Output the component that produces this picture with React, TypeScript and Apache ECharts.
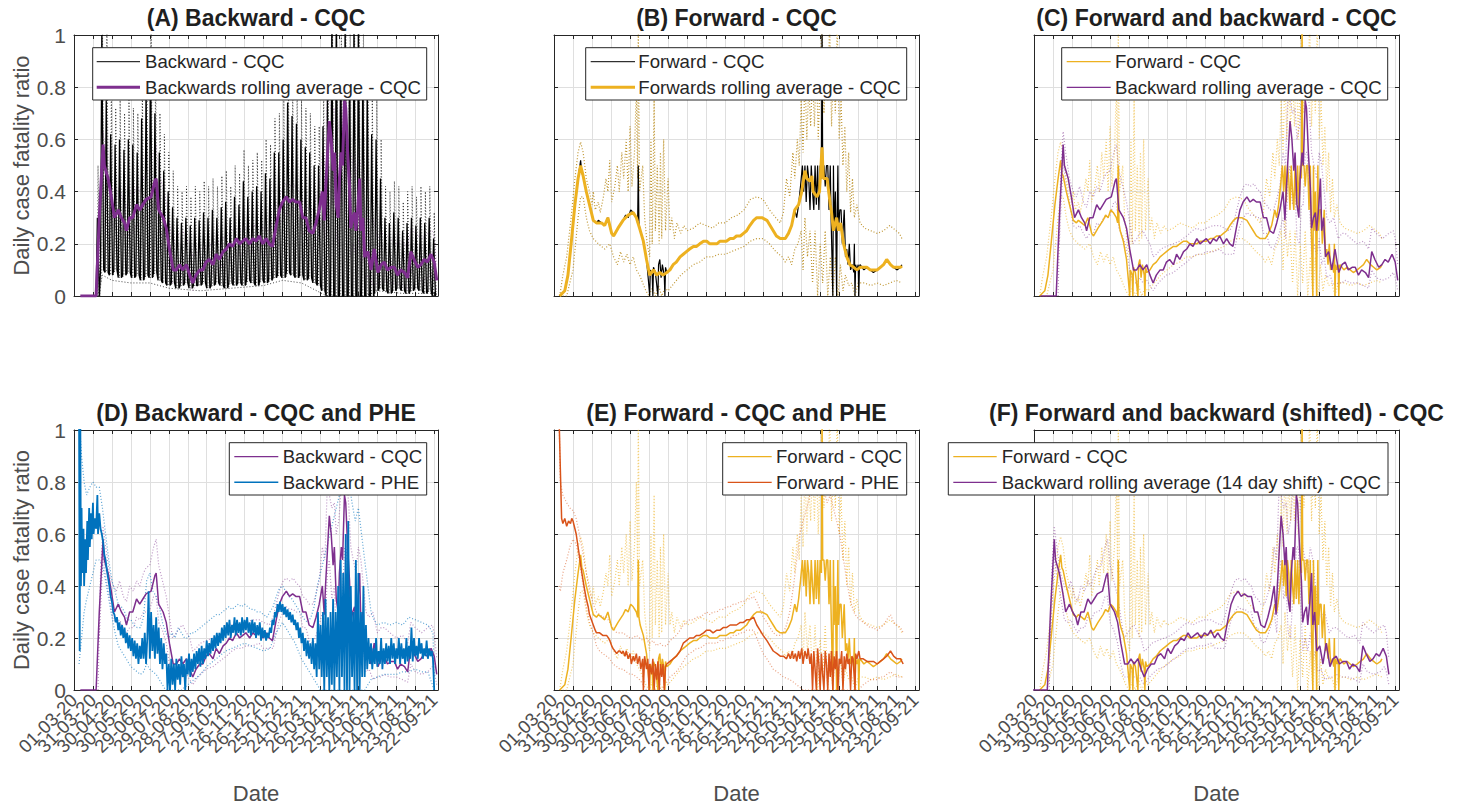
import React, { useEffect, useRef } from 'react';
import * as echarts from 'echarts';

const FONT = '"Liberation Sans", Arial, Helvetica, sans-serif';

// x tick labels (every 30 days from 01-03-20)
const tickLabels = [
  '01-03-20', '31-03-20', '30-04-20', '30-05-20', '29-06-20', '29-07-20', '28-08-20',
  '27-09-20', '27-10-20', '26-11-20', '26-12-20', '25-01-21', '24-02-21', '26-03-21',
  '25-04-21', '25-05-21', '24-06-21', '24-07-21', '23-08-21', '22-09-21',
];
const yTicks = [0, 0.2, 0.4, 0.6, 0.8, 1];

// Backward raw CQC (panel A): weekly low / high / upper-bound peaks (week index -> day 7*w)
const aHigh = [null, null, 0, 0, 0, 0.3, 1.0, 0.75, 0.62, 0.58, 0.6, 0.56, 0.6, 0.58, 0.55, 0.68, 0.78, 0.95, 0.7, 0.55,
  0.48, 0.4, 0.34, 0.3, 0.28, 0.3, 0.27, 0.3, 0.29, 0.32, 0.3, 0.33, 0.3, 0.34, 0.36, 0.3, 0.38, 0.35, 0.44, 0.38,
  0.4, 0.42, 0.4, 0.47, 0.45, 0.55, 0.55, 0.6, 0.74, 0.69, 0.66, 0.6, 0.57, 0.55, 0.5, 0.5, 0.65, 0.75, 1.05, 1.05,
  0.95, 1.05, 0.9, 1.05, 1.05, 0.9, 0.8, 0.62, 0.6, 0.45, 0.3, 0.28, 0.32, 0.3, 0.25, 0.28, 0.3, 0.27, 0.3, 0.28, 0.3, 0.22];
const aLow = [null, null, 0, 0, 0, 0, 0.1, 0.09, 0.08, 0.1, 0.07, 0.08, 0.09, 0.07, 0.08, 0.06, 0.08, 0.07, 0.09, 0.06,
  0.05, 0.04, 0.05, 0.03, 0.04, 0.05, 0.03, 0.04, 0.04, 0.05, 0.03, 0.04, 0.05, 0.04, 0.03, 0.05, 0.04, 0.05, 0.04, 0.06,
  0.05, 0.04, 0.06, 0.05, 0.06, 0.07, 0.08, 0.07, 0.09, 0.08, 0.07, 0.08, 0.06, 0.07, 0.05, 0.04, 0.02, 0, 0, 0,
  0, 0, 0, 0, 0, 0, 0, 0, 0.02, 0.03, 0.02, 0.01, 0.02, 0.03, 0.02, 0.01, 0.02, 0.03, 0.02, 0.01, 0.02, 0];
const aUp = [null, null, 0, 0, 0, 0.5, 1.05, 1.05, 0.8, 0.72, 0.75, 0.7, 0.75, 0.72, 0.7, 0.85, 0.95, 1.05, 0.9, 0.7,
  0.62, 0.55, 0.48, 0.42, 0.4, 0.42, 0.38, 0.42, 0.4, 0.44, 0.42, 0.45, 0.42, 0.46, 0.48, 0.42, 0.5, 0.47, 0.56, 0.5,
  0.52, 0.55, 0.52, 0.6, 0.58, 0.68, 0.7, 0.75, 0.9, 0.85, 0.82, 0.75, 0.72, 0.7, 0.65, 0.65, 0.8, 0.92, 1.05, 1.05,
  1.05, 1.05, 1.05, 1.05, 1.05, 1.05, 0.95, 0.78, 0.75, 0.6, 0.42, 0.4, 0.44, 0.42, 0.36, 0.4, 0.42, 0.38, 0.42, 0.4, 0.42, 0.32];
const aLowBound = [[14, 0], [38, 0], [45, 0.08], [60, 0.06], [90, 0.05], [120, 0.05], [150, 0.03], [200, 0.02], [250, 0.03],
  [300, 0.04], [330, 0.06], [360, 0.05], [400, 0.0], [460, 0.0], [480, 0.02], [520, 0.01], [574, 0.01]];

// Backward rolling average CQC [day, ratio]
const bwdRoll = [[10, 0], [35, 0], [40, 0.3], [46, 0.58], [48, 0.5], [54, 0.45], [59, 0.38], [64, 0.3], [70, 0.33], [75, 0.3],
  [80, 0.28], [83, 0.25], [88, 0.3], [93, 0.3], [99, 0.35], [104, 0.33], [109, 0.35], [114, 0.37], [122, 0.38], [128, 0.44],
  [130, 0.45], [134, 0.33], [141, 0.3], [146, 0.26], [151, 0.18], [157, 0.1], [162, 0.1], [167, 0.12], [172, 0.1], [178, 0.12],
  [183, 0.08], [188, 0.05], [193, 0.08], [199, 0.1], [204, 0.1], [209, 0.13], [214, 0.14], [220, 0.12], [225, 0.16], [230, 0.14],
  [236, 0.17], [241, 0.18], [246, 0.2], [251, 0.19], [257, 0.22], [262, 0.2], [267, 0.21], [272, 0.22], [278, 0.2], [283, 0.22],
  [288, 0.21], [293, 0.23], [299, 0.2], [304, 0.22], [309, 0.2], [314, 0.19], [320, 0.27], [325, 0.33], [330, 0.36], [336, 0.38],
  [341, 0.36], [346, 0.37], [351, 0.36], [357, 0.36], [362, 0.3], [367, 0.3], [372, 0.25], [378, 0.24], [383, 0.28], [388, 0.33],
  [393, 0.4], [396, 0.29], [398, 0.4], [404, 0.67], [407, 0.6], [410, 0.48], [412, 0.55], [415, 0.35], [418, 0.3], [420, 0.45],
  [423, 0.55], [425, 0.5], [428, 0.75], [430, 0.72], [433, 0.55], [436, 0.42], [438, 0.26], [441, 0.3], [444, 0.32], [446, 0.25],
  [449, 0.33], [452, 0.45], [454, 0.25], [457, 0.3], [460, 0.15], [465, 0.17], [470, 0.1], [475, 0.18], [481, 0.09], [486, 0.12],
  [491, 0.13], [496, 0.1], [502, 0.11], [507, 0.11], [512, 0.08], [517, 0.1], [523, 0.09], [528, 0.07], [533, 0.17], [538, 0.14],
  [544, 0.11], [549, 0.12], [554, 0.14], [559, 0.13], [565, 0.16], [570, 0.13], [574, 0.06]];
const bwdRollUp = [[38, 0], [42, 0.45], [46, 0.63], [50, 0.55], [56, 0.45], [62, 0.4], [67, 0.38], [72, 0.42], [78, 0.36], [83, 0.34],
  [88, 0.4], [94, 0.38], [99, 0.42], [104, 0.4], [110, 0.45], [114, 0.47], [120, 0.48], [126, 0.55], [130, 0.58], [134, 0.48],
  [140, 0.42], [146, 0.36], [151, 0.28], [156, 0.2], [162, 0.22], [167, 0.24], [172, 0.25], [178, 0.22], [183, 0.2], [188, 0.15],
  [193, 0.16], [200, 0.18], [209, 0.19], [220, 0.2], [230, 0.21], [241, 0.23], [250, 0.25], [257, 0.26], [265, 0.25], [272, 0.26],
  [283, 0.27], [293, 0.27], [300, 0.26], [309, 0.25], [315, 0.28], [320, 0.33], [325, 0.38], [331, 0.42], [336, 0.43], [341, 0.42],
  [347, 0.43], [352, 0.41], [357, 0.4], [362, 0.36], [367, 0.35], [372, 0.33], [378, 0.33], [383, 0.37], [388, 0.42], [393, 0.55],
  [397, 0.5], [401, 0.8], [404, 0.75], [408, 0.7], [412, 0.72], [415, 0.6], [419, 0.65], [422, 0.75], [425, 0.85], [428, 0.95],
  [431, 0.85], [435, 0.7], [438, 0.55], [442, 0.5], [446, 0.45], [450, 0.55], [454, 0.5], [458, 0.4], [462, 0.3], [467, 0.28],
  [473, 0.3], [480, 0.22], [486, 0.24], [491, 0.24], [500, 0.22], [510, 0.2], [520, 0.21], [528, 0.18], [533, 0.26], [540, 0.24],
  [550, 0.22], [560, 0.24], [567, 0.25], [570, 0.22], [574, 0.12]];
const bwdRollLo = [[40, 0.2], [46, 0.52], [50, 0.44], [56, 0.36], [62, 0.27], [67, 0.26], [72, 0.27], [78, 0.24], [83, 0.22], [88, 0.24],
  [94, 0.24], [99, 0.28], [104, 0.27], [110, 0.3], [114, 0.3], [120, 0.31], [126, 0.36], [130, 0.36], [134, 0.26], [140, 0.23],
  [146, 0.18], [151, 0.1], [156, 0.05], [162, 0.05], [167, 0.07], [172, 0.05], [178, 0.06], [183, 0.04], [188, 0.02], [193, 0.04],
  [200, 0.06], [209, 0.08], [220, 0.09], [230, 0.11], [241, 0.13], [250, 0.15], [257, 0.16], [265, 0.16], [272, 0.17], [283, 0.17],
  [293, 0.18], [300, 0.16], [309, 0.16], [315, 0.16], [320, 0.22], [325, 0.27], [331, 0.3], [336, 0.32], [341, 0.31], [347, 0.31],
  [352, 0.3], [357, 0.3], [362, 0.24], [367, 0.24], [372, 0.19], [378, 0.18], [383, 0.21], [388, 0.25], [393, 0.3], [397, 0.22],
  [401, 0.45], [404, 0.5], [408, 0.35], [412, 0.4], [415, 0.22], [419, 0.2], [422, 0.35], [425, 0.35], [428, 0.55], [431, 0.55],
  [435, 0.35], [438, 0.15], [442, 0.2], [446, 0.15], [450, 0.22], [454, 0.12], [458, 0.15], [462, 0.07], [467, 0.08], [473, 0.04],
  [480, 0.05], [486, 0.05], [491, 0.06], [500, 0.05], [510, 0.05], [520, 0.04], [528, 0.03], [533, 0.1], [540, 0.07], [550, 0.06],
  [560, 0.07], [567, 0.09], [570, 0.07], [574, 0.02]];

// Forward CQC: rolling average and raw daily
const fwdAvg = [[9, 0], [17, 0.02], [22, 0.08], [27, 0.2], [33, 0.35], [38, 0.45], [42, 0.5], [46, 0.46], [51, 0.4], [56, 0.35],
  [62, 0.29], [67, 0.28], [75, 0.28], [80, 0.27], [85, 0.3], [91, 0.24], [94, 0.23], [101, 0.26], [109, 0.29], [117, 0.31],
  [125, 0.32], [130, 0.3], [135, 0.26], [141, 0.21], [146, 0.14], [151, 0.08], [157, 0.1], [162, 0.08], [167, 0.09], [172, 0.08],
  [178, 0.09], [183, 0.1], [188, 0.12], [193, 0.13], [199, 0.15], [204, 0.16], [209, 0.17], [214, 0.18], [220, 0.19], [225, 0.19],
  [230, 0.2], [236, 0.21], [241, 0.21], [246, 0.2], [251, 0.2], [257, 0.2], [262, 0.21], [267, 0.21], [272, 0.21], [278, 0.22],
  [283, 0.22], [288, 0.23], [294, 0.23], [299, 0.24], [304, 0.25], [309, 0.27], [315, 0.29], [320, 0.3], [328, 0.3], [336, 0.29],
  [341, 0.27], [346, 0.25], [351, 0.23], [357, 0.22], [365, 0.22], [370, 0.24], [375, 0.27], [380, 0.33], [386, 0.35], [391, 0.4],
  [396, 0.48], [399, 0.45], [404, 0.44], [407, 0.46], [409, 0.4], [415, 0.38], [419, 0.4], [423, 0.57], [425, 0.45], [431, 0.45],
  [436, 0.35], [438, 0.32], [441, 0.25], [446, 0.3], [449, 0.25], [452, 0.28], [454, 0.25], [457, 0.2], [462, 0.15], [467, 0.12],
  [473, 0.11], [478, 0.1], [483, 0.11], [489, 0.11], [494, 0.11], [499, 0.1], [504, 0.1], [510, 0.1], [515, 0.11], [520, 0.12],
  [525, 0.14], [531, 0.12], [536, 0.11], [541, 0.11], [547, 0.11], [549, 0.115]];
const fwdRaw = [[9, 0], [17, 0.02], [22, 0.08], [27, 0.2], [33, 0.35], [38, 0.45], [42, 0.52], [44, 0.47], [46, 0.46], [51, 0.4],
  [56, 0.35], [62, 0.29], [67, 0.28], [70, 0.29], [75, 0.28], [80, 0.27], [85, 0.3], [88, 0.27], [91, 0.24], [94, 0.23],
  [101, 0.26], [109, 0.29], [113, 0.31], [117, 0.3], [121, 0.33], [125, 0.32], [130, 0.3], [132, 0.28], [133, 0.5], [134, 0.28],
  [136, 0.25], [141, 0.21], [146, 0.14], [149, 0.06], [151, 0], [152, 0.1], [155, 0.08], [156, 0], [157, 0.11], [160, 0.09],
  [164, 0], [165, 0.12], [167, 0.14], [169, 0.07], [171, 0.12], [174, 0.08], [175, 0], [176, 0.11], [178, 0.09], [183, 0.1],
  [188, 0.12], [193, 0.13], [199, 0.15], [204, 0.16], [209, 0.17], [214, 0.18], [220, 0.19], [225, 0.19], [230, 0.2], [236, 0.21],
  [241, 0.21], [246, 0.2], [251, 0.2], [257, 0.2], [262, 0.21], [267, 0.21], [272, 0.21], [278, 0.22], [283, 0.22], [288, 0.23],
  [294, 0.23], [299, 0.24], [304, 0.25], [309, 0.27], [315, 0.29], [320, 0.3], [328, 0.3], [336, 0.29], [341, 0.27], [346, 0.25],
  [351, 0.23], [357, 0.22], [365, 0.22], [370, 0.24], [375, 0.27], [380, 0.33], [383, 0.3], [386, 0.35], [389, 0.42], [392, 0.5],
  [394, 0.4], [396, 0.5], [398, 0.36], [400, 0.5], [402, 0.45], [404, 0.33], [406, 0.5], [408, 0.4], [410, 0.33], [412, 0.5],
  [414, 0.35], [416, 0.5], [418, 0.33], [420, 0.5], [422, 0.45], [423, 1.05], [424, 0.5], [426, 0.5], [428, 0.42], [430, 0.5],
  [432, 0.5], [434, 0.33], [436, 0.5], [437, 0.33], [440, 0], [441, 0.5], [442, 0.25], [444, 0.4], [446, 0], [447, 0.33],
  [448, 0.5], [449, 0.25], [451, 0.33], [453, 0.33], [455, 0.2], [458, 0.33], [460, 0.15], [462, 0.18], [464, 0.12], [466, 0.2],
  [468, 0.1], [471, 0.12], [473, 0.09], [474, 0.2], [475, 0], [476, 0.12], [478, 0.1], [480, 0.12], [481, 0], [482, 0.11],
  [483, 0.12], [489, 0.1], [494, 0.11], [499, 0.1], [504, 0.09], [510, 0.1], [515, 0.11], [520, 0.12], [525, 0.14], [531, 0.12],
  [536, 0.11], [541, 0.1], [547, 0.11], [549, 0.12]];
const fwdUp = [[9, 0], [14, 0.08], [20, 0.15], [27, 0.3], [33, 0.45], [38, 0.55], [42, 0.59], [46, 0.55], [51, 0.45], [56, 0.4],
  [60, 0.35], [62, 0.4], [65, 0.33], [70, 0.36], [73, 0.32], [78, 0.38], [82, 0.45], [85, 0.4], [88, 0.52], [91, 0.36],
  [96, 0.42], [100, 0.5], [103, 0.4], [107, 0.55], [110, 0.45], [114, 0.6], [117, 0.4], [120, 0.65], [123, 0.42], [127, 0.55],
  [130, 0.8], [132, 0.45], [133, 1.05], [135, 0.4], [140, 0.5], [143, 0.3], [147, 0.2], [151, 0.15], [153, 0.6], [155, 0.2],
  [158, 0.75], [160, 0.25], [163, 0.5], [166, 0.2], [168, 0.55], [170, 0.22], [173, 0.6], [176, 0.25], [180, 0.45], [183, 0.25],
  [186, 0.3], [190, 0.22], [194, 0.28], [200, 0.24], [205, 0.27], [210, 0.25], [220, 0.26], [230, 0.28], [240, 0.27], [250, 0.26],
  [260, 0.28], [270, 0.28], [280, 0.3], [290, 0.31], [300, 0.33], [310, 0.37], [320, 0.38], [330, 0.37], [340, 0.33], [350, 0.3],
  [357, 0.28], [362, 0.32], [367, 0.45], [372, 0.38], [377, 0.55], [380, 0.45], [384, 0.6], [387, 0.5], [390, 0.75], [393, 0.55],
  [396, 0.85], [399, 0.6], [402, 0.8], [405, 0.65], [408, 0.85], [411, 0.65], [414, 0.9], [417, 0.6], [420, 0.85], [423, 1.05],
  [426, 0.7], [429, 0.95], [432, 0.75], [435, 1.05], [438, 0.65], [441, 0.9], [444, 0.7], [447, 1.05], [450, 0.6], [453, 0.75],
  [456, 0.5], [459, 0.65], [462, 0.4], [465, 0.55], [468, 0.32], [471, 0.45], [474, 0.3], [478, 0.35], [483, 0.28], [490, 0.26],
  [500, 0.25], [510, 0.24], [520, 0.25], [530, 0.27], [540, 0.25], [545, 0.24], [549, 0.22]];
const fwdLo = [[9, 0], [20, 0], [30, 0.1], [38, 0.3], [42, 0.38], [46, 0.38], [51, 0.3], [56, 0.25], [62, 0.22], [70, 0.2],
  [80, 0.18], [88, 0.2], [94, 0.15], [100, 0.12], [105, 0.17], [110, 0.13], [115, 0.16], [120, 0.12], [125, 0.15], [130, 0.1],
  [135, 0.08], [140, 0.05], [145, 0.02], [150, 0], [155, 0.03], [160, 0], [165, 0.04], [170, 0], [175, 0.03], [180, 0.02],
  [190, 0.05], [200, 0.08], [210, 0.1], [220, 0.12], [230, 0.13], [240, 0.15], [250, 0.15], [260, 0.16], [270, 0.16], [280, 0.17],
  [290, 0.18], [300, 0.19], [310, 0.21], [320, 0.22], [330, 0.22], [340, 0.2], [350, 0.17], [360, 0.15], [365, 0.13], [370, 0.15],
  [375, 0.12], [380, 0.18], [385, 0.2], [390, 0.25], [393, 0.1], [396, 0.3], [400, 0.15], [404, 0.25], [408, 0.05], [412, 0.25],
  [416, 0], [420, 0.2], [424, 0.05], [428, 0.25], [432, 0], [436, 0.15], [440, 0], [444, 0.15], [448, 0], [452, 0.12],
  [456, 0.02], [460, 0.08], [465, 0.04], [470, 0.05], [475, 0], [480, 0.05], [490, 0.05], [500, 0.04], [510, 0.05], [520, 0.04],
  [530, 0.05], [540, 0.06], [549, 0.05]];

// Backward PHE (panel D)
const pheBwd = [[8, 1.05], [9, 0.15], [10, 1.05], [11, 0.4], [12, 0.7], [13, 0.45], [15, 0.62], [16, 0.4], [18, 0.58], [19, 0.45],
  [21, 0.65], [22, 0.5], [24, 0.7], [25, 0.55], [27, 0.68], [28, 0.58], [30, 0.72], [31, 0.6], [33, 0.66], [35, 0.62],
  [37, 0.75], [38, 0.6], [40, 0.68], [42, 0.62], [44, 0.6], [46, 0.57], [48, 0.52], [50, 0.5], [52, 0.46], [54, 0.43],
  [56, 0.4], [58, 0.36], [60, 0.34], [62, 0.3], [64, 0.29], [66, 0.26], [68, 0.28], [70, 0.23], [72, 0.26], [74, 0.21],
  [76, 0.25], [78, 0.2], [80, 0.24], [82, 0.18], [84, 0.22], [86, 0.16], [88, 0.21], [90, 0.15], [92, 0.2], [94, 0.13],
  [96, 0.19], [98, 0.12], [100, 0.18], [102, 0.1], [104, 0.17], [106, 0.12], [108, 0.2], [110, 0.12], [112, 0.22], [114, 0.1],
  [116, 0.2], [118, 0.38], [120, 0.12], [122, 0.3], [124, 0.15], [126, 0.25], [128, 0.12], [130, 0.28], [132, 0.14], [134, 0.24],
  [136, 0.1], [138, 0.2], [140, 0.08], [142, 0.18], [144, 0.1], [146, 0.14], [148, 0], [150, 0.1], [152, 0], [154, 0.12],
  [156, 0.02], [158, 0.1], [160, 0], [162, 0.12], [164, 0.04], [166, 0.1], [168, 0.02], [170, 0.13], [172, 0.05], [174, 0.1],
  [176, 0], [178, 0.12], [180, 0.06], [182, 0.14], [184, 0.05], [186, 0.12], [188, 0.07], [190, 0.14], [192, 0.08], [194, 0.15],
  [196, 0.1], [198, 0.16], [200, 0.09], [202, 0.17], [204, 0.1], [206, 0.16], [208, 0.12], [210, 0.19], [212, 0.13], [214, 0.18],
  [216, 0.14], [218, 0.2], [220, 0.15], [222, 0.21], [224, 0.16], [226, 0.22], [228, 0.17], [230, 0.22], [232, 0.18], [234, 0.24],
  [236, 0.19], [238, 0.25], [240, 0.2], [242, 0.26], [244, 0.21], [246, 0.27], [248, 0.2], [250, 0.25], [252, 0.22], [254, 0.28],
  [256, 0.21], [258, 0.27], [260, 0.22], [262, 0.26], [264, 0.21], [266, 0.28], [268, 0.22], [270, 0.27], [272, 0.23], [274, 0.28],
  [276, 0.22], [278, 0.26], [280, 0.21], [282, 0.27], [284, 0.22], [286, 0.26], [288, 0.2], [290, 0.25], [292, 0.21], [294, 0.26],
  [296, 0.19], [298, 0.24], [300, 0.2], [302, 0.23], [304, 0.19], [306, 0.22], [308, 0.2], [310, 0.24], [312, 0.22], [314, 0.27],
  [316, 0.25], [318, 0.3], [320, 0.28], [322, 0.33], [324, 0.3], [326, 0.34], [328, 0.3], [330, 0.33], [332, 0.29], [334, 0.32],
  [336, 0.28], [338, 0.31], [340, 0.27], [342, 0.3], [344, 0.26], [346, 0.29], [348, 0.25], [350, 0.27], [352, 0.23], [354, 0.26],
  [356, 0.2], [358, 0.24], [360, 0.18], [362, 0.22], [364, 0.15], [366, 0.2], [368, 0.13], [370, 0.19], [372, 0.12], [374, 0.18],
  [376, 0.1], [378, 0.2], [380, 0.08], [382, 0.18], [384, 0.05], [386, 0.3], [388, 0.08], [390, 0.25], [392, 0.05], [394, 0.3],
  [396, 0], [398, 0.35], [400, 0.05], [402, 0.28], [404, 0], [406, 0.3], [408, 0.02], [410, 0.35], [412, 0], [414, 0.3],
  [416, 0.05], [418, 0.4], [420, 0], [422, 0.5], [424, 0.05], [426, 0.45], [428, 0], [430, 0.6], [432, 0], [434, 0.65],
  [436, 0], [438, 0.4], [440, 0.05], [442, 0.3], [444, 0], [446, 0.5], [448, 0], [450, 0.45], [452, 0], [454, 0.3],
  [456, 0.05], [458, 0.4], [460, 0.05], [462, 0.25], [464, 0.08], [466, 0.2], [468, 0.1], [470, 0.18], [472, 0.08], [474, 0.16],
  [476, 0.1], [478, 0.2], [480, 0.09], [482, 0.15], [484, 0.1], [486, 0.2], [488, 0.08], [490, 0.16], [492, 0.1], [494, 0.18],
  [496, 0.11], [498, 0.17], [500, 0.1], [502, 0.2], [504, 0.12], [506, 0.18], [508, 0.1], [510, 0.16], [512, 0.12], [514, 0.2],
  [516, 0.1], [518, 0.18], [520, 0.12], [522, 0.16], [524, 0.1], [526, 0.2], [528, 0.11], [530, 0.17], [532, 0.12], [534, 0.24],
  [536, 0.11], [538, 0.2], [540, 0.13], [542, 0.17], [544, 0.12], [546, 0.2], [548, 0.14], [550, 0.18], [552, 0.12], [554, 0.16],
  [556, 0.13], [558, 0.19], [560, 0.12], [562, 0.16], [564, 0.13], [566, 0.15], [568, 0.12], [570, 0]];
const pheBwdUp = [[8, 1.05], [12, 0.9], [16, 0.8], [20, 0.75], [25, 0.78], [30, 0.8], [35, 0.78], [40, 0.78], [45, 0.7], [50, 0.6],
  [55, 0.5], [60, 0.42], [65, 0.38], [70, 0.33], [75, 0.32], [80, 0.3], [85, 0.27], [90, 0.27], [95, 0.25], [100, 0.24],
  [105, 0.24], [110, 0.28], [115, 0.42], [120, 0.45], [125, 0.38], [130, 0.36], [135, 0.32], [140, 0.26], [145, 0.22], [150, 0.2],
  [155, 0.22], [160, 0.2], [165, 0.24], [170, 0.22], [175, 0.2], [180, 0.2], [185, 0.22], [190, 0.22], [195, 0.23], [200, 0.24],
  [205, 0.25], [210, 0.26], [215, 0.27], [220, 0.28], [225, 0.29], [230, 0.29], [235, 0.3], [240, 0.31], [245, 0.32], [250, 0.31],
  [255, 0.32], [260, 0.33], [265, 0.32], [270, 0.33], [275, 0.32], [280, 0.31], [285, 0.31], [290, 0.3], [295, 0.3], [300, 0.29],
  [305, 0.28], [310, 0.3], [315, 0.32], [320, 0.36], [325, 0.39], [330, 0.4], [335, 0.38], [340, 0.36], [345, 0.35], [350, 0.33],
  [355, 0.31], [360, 0.29], [365, 0.27], [370, 0.26], [375, 0.28], [380, 0.32], [385, 0.4], [390, 0.45], [395, 0.5], [400, 0.55],
  [405, 0.6], [410, 0.65], [415, 0.7], [420, 0.75], [425, 0.8], [430, 0.85], [435, 0.8], [440, 0.72], [445, 0.65], [450, 0.7],
  [455, 0.6], [460, 0.5], [465, 0.4], [470, 0.3], [475, 0.27], [480, 0.25], [490, 0.26], [500, 0.25], [510, 0.26], [520, 0.25],
  [530, 0.28], [540, 0.27], [550, 0.26], [560, 0.25], [568, 0.22], [570, 0.05]];
const pheBwdLo = [[8, 0.1], [12, 0.2], [16, 0.3], [20, 0.35], [25, 0.4], [30, 0.45], [35, 0.5], [40, 0.5], [45, 0.48], [50, 0.42],
  [55, 0.35], [60, 0.28], [65, 0.22], [70, 0.17], [75, 0.15], [80, 0.13], [85, 0.11], [90, 0.09], [95, 0.08], [100, 0.07],
  [105, 0.06], [110, 0.07], [115, 0.1], [120, 0.08], [125, 0.07], [130, 0.06], [135, 0.04], [140, 0.02], [145, 0], [170, 0],
  [180, 0.02], [190, 0.04], [200, 0.06], [210, 0.09], [220, 0.11], [230, 0.13], [240, 0.15], [250, 0.16], [260, 0.17], [270, 0.18],
  [280, 0.17], [290, 0.16], [300, 0.15], [310, 0.16], [320, 0.22], [330, 0.26], [340, 0.22], [350, 0.18], [360, 0.12], [370, 0.08],
  [380, 0.04], [390, 0], [460, 0], [470, 0.04], [480, 0.05], [490, 0.06], [500, 0.06], [510, 0.06], [520, 0.07], [530, 0.07],
  [540, 0.08], [550, 0.07], [560, 0.07], [570, 0]];

// Forward PHE (panel E)
const pheFwd = [[8, 1.05], [10, 0.85], [12, 0.66], [14, 0.64], [17, 0.66], [20, 0.63], [23, 0.65], [26, 0.64], [28, 0.66], [30, 0.65],
  [33, 0.62], [35, 0.6], [38, 0.55], [41, 0.5], [44, 0.45], [46, 0.42], [48, 0.39], [51, 0.35], [54, 0.32], [56, 0.29],
  [59, 0.27], [62, 0.25], [65, 0.23], [67, 0.22], [72, 0.22], [77, 0.21], [83, 0.21], [86, 0.2], [88, 0.19], [91, 0.17],
  [93, 0.16], [96, 0.15], [99, 0.14], [102, 0.15], [104, 0.15], [107, 0.14], [109, 0.15], [112, 0.13], [114, 0.15], [117, 0.12],
  [120, 0.14], [122, 0.1], [125, 0.13], [127, 0.11], [130, 0.14], [132, 0.1], [135, 0.13], [137, 0.08], [140, 0.12], [141, 0],
  [143, 0.13], [146, 0.08], [148, 0.12], [150, 0], [151, 0.1], [154, 0.06], [156, 0.12], [158, 0], [160, 0.1], [162, 0.04],
  [164, 0.11], [166, 0], [168, 0.1], [170, 0.05], [172, 0.1], [174, 0], [176, 0.09], [178, 0.1], [183, 0.11], [188, 0.12],
  [193, 0.13], [199, 0.15], [204, 0.18], [209, 0.19], [214, 0.2], [220, 0.2], [225, 0.21], [230, 0.21], [236, 0.22], [241, 0.23],
  [246, 0.23], [251, 0.22], [257, 0.23], [262, 0.23], [267, 0.24], [272, 0.24], [278, 0.25], [283, 0.25], [288, 0.25], [294, 0.26],
  [299, 0.26], [304, 0.27], [309, 0.27], [315, 0.28], [320, 0.25], [325, 0.23], [330, 0.21], [336, 0.19], [341, 0.17], [346, 0.15],
  [352, 0.14], [357, 0.13], [362, 0.13], [367, 0.12], [370, 0.14], [373, 0.12], [376, 0.15], [378, 0.12], [381, 0.14], [383, 0.11],
  [386, 0.15], [388, 0.12], [391, 0.16], [393, 0.1], [396, 0.15], [399, 0.12], [401, 0.16], [404, 0.1], [406, 0.14], [408, 0],
  [410, 0.15], [412, 0.08], [414, 0], [416, 0.16], [418, 0.1], [420, 0], [422, 0.14], [424, 0.06], [426, 0], [428, 0.15],
  [430, 0.1], [432, 0], [434, 0.14], [436, 0.05], [438, 0.15], [440, 0], [442, 0.13], [444, 0.08], [446, 0.15], [448, 0],
  [450, 0.12], [452, 0.1], [454, 0.15], [456, 0], [458, 0.13], [460, 0.08], [462, 0.14], [464, 0.1], [466, 0.12], [468, 0],
  [470, 0.13], [472, 0.12], [475, 0], [476, 0.14], [478, 0.12], [481, 0.15], [483, 0.12], [488, 0.12], [494, 0.11], [499, 0.11],
  [504, 0.11], [510, 0.1], [515, 0.11], [520, 0.12], [525, 0.13], [531, 0.15], [536, 0.13], [541, 0.12], [547, 0.12], [551, 0.1]];
const pheFwdUp = [[8, 1.05], [10, 0.8], [14, 0.75], [20, 0.72], [25, 0.7], [30, 0.69], [35, 0.66], [40, 0.6], [46, 0.52], [51, 0.45],
  [56, 0.38], [62, 0.33], [67, 0.3], [72, 0.29], [77, 0.28], [83, 0.28], [88, 0.26], [93, 0.24], [99, 0.22], [104, 0.22],
  [109, 0.22], [114, 0.21], [120, 0.2], [125, 0.2], [130, 0.21], [135, 0.2], [141, 0.19], [146, 0.2], [151, 0.18], [156, 0.19],
  [162, 0.17], [167, 0.18], [172, 0.17], [178, 0.17], [183, 0.19], [188, 0.2], [193, 0.21], [199, 0.23], [204, 0.25], [209, 0.26],
  [214, 0.27], [220, 0.27], [225, 0.28], [230, 0.28], [236, 0.29], [241, 0.3], [246, 0.29], [251, 0.3], [257, 0.3], [262, 0.31],
  [267, 0.31], [272, 0.32], [278, 0.32], [283, 0.33], [288, 0.33], [294, 0.34], [299, 0.34], [304, 0.35], [309, 0.35], [315, 0.36],
  [320, 0.34], [325, 0.31], [330, 0.28], [336, 0.26], [341, 0.24], [346, 0.22], [352, 0.21], [357, 0.21], [362, 0.22], [367, 0.25],
  [372, 0.3], [378, 0.4], [383, 0.5], [388, 0.6], [393, 0.65], [399, 0.7], [404, 0.75], [410, 0.78], [415, 0.8], [420, 0.75],
  [425, 0.78], [431, 0.72], [436, 0.75], [441, 0.7], [446, 0.65], [451, 0.6], [457, 0.5], [462, 0.42], [467, 0.35], [473, 0.3],
  [478, 0.28], [483, 0.27], [488, 0.26], [494, 0.25], [499, 0.24], [504, 0.24], [510, 0.23], [515, 0.24], [520, 0.25], [525, 0.27],
  [531, 0.29], [536, 0.26], [541, 0.25], [547, 0.24], [551, 0.22]];
const pheFwdLo = [[8, 0.4], [10, 0.38], [14, 0.45], [20, 0.5], [25, 0.55], [30, 0.58], [35, 0.56], [40, 0.5], [46, 0.4], [51, 0.32],
  [56, 0.26], [62, 0.22], [67, 0.17], [72, 0.15], [77, 0.14], [83, 0.13], [88, 0.12], [93, 0.1], [99, 0.09], [104, 0.08],
  [109, 0.08], [114, 0.07], [120, 0.06], [125, 0.06], [130, 0.05], [135, 0.04], [141, 0.02], [146, 0], [162, 0], [172, 0.01],
  [178, 0.03], [183, 0.05], [188, 0.06], [193, 0.07], [199, 0.09], [204, 0.11], [209, 0.13], [214, 0.14], [220, 0.15], [225, 0.16],
  [230, 0.16], [236, 0.17], [241, 0.18], [246, 0.18], [257, 0.18], [262, 0.19], [267, 0.19], [272, 0.2], [278, 0.2], [283, 0.21],
  [288, 0.21], [294, 0.22], [299, 0.22], [304, 0.23], [315, 0.23], [320, 0.2], [325, 0.17], [330, 0.14], [336, 0.12], [341, 0.1],
  [346, 0.08], [352, 0.07], [357, 0.06], [362, 0.05], [372, 0.04], [378, 0.03], [383, 0.02], [388, 0.01], [393, 0], [480, 0],
  [488, 0.02], [494, 0.03], [499, 0.04], [510, 0.04], [515, 0.05], [520, 0.05], [525, 0.06], [531, 0.07], [536, 0.06], [541, 0.05],
  [551, 0.05]];

const SHIFT_DAYS = 14;
const X_MAX = 576;
const X_STEP = 30;

const PURPLE = '#7E2F8E';
const ORANGE = '#EDB120';
const BLUE = '#0072BD';
const RED = '#D95319';

const panels = [
  { title: '(A) Backward - CQC', left: 74, top: 35, width: 364 },
  { title: '(B) Forward - CQC', left: 554, top: 35, width: 365 },
  { title: '(C) Forward and backward - CQC', left: 1034, top: 35, width: 365 },
  { title: '(D) Backward - CQC and PHE', left: 74, top: 430, width: 364 },
  { title: '(E) Forward - CQC and PHE', left: 554, top: 430, width: 365 },
  { title: '(F) Forward and backward (shifted) - CQC', left: 1034, top: 430, width: 365 },
];
const PLOT_H = 261;

const legends = [
  { box: [92.7, 47.7, 334, 52.3], line: [96.7, 140], text: 145, items: [['Backward - CQC', '#000', 1], ['Backwards rolling average - CQC', PURPLE, 3]] },
  { box: [585.7, 47.7, 321, 52.3], line: [590.7, 635], text: 638.3, items: [['Forward - CQC', '#000', 1], ['Forwards rolling average - CQC', ORANGE, 3]] },
  { box: [1061.7, 47.7, 326, 52.3], line: [1066.7, 1110.7], text: 1115, items: [['Forward - CQC', ORANGE, 1.3], ['Backward rolling average - CQC', PURPLE, 1.3]] },
  { box: [229.3, 442.7, 197.4, 52.3], line: [234.3, 278.3], text: 282.7, items: [['Backward - CQC', PURPLE, 1.3], ['Backward - PHE', BLUE, 1.6]] },
  { box: [722.7, 442.7, 184, 52.3], line: [727.7, 771.7], text: 776, items: [['Forward - CQC', ORANGE, 1.3], ['Forward - PHE', RED, 1.3]] },
  { box: [948.3, 442.7, 439.7, 52.3], line: [953.3, 996.7], text: 1001.7, items: [['Forward - CQC', ORANGE, 1.3], ['Backward rolling average (14 day shift) - CQC', PURPLE, 1.3]] },
];

// weekly low -> high (held two days) -> low zig-zag built from the weekly arrays
function weeklyZigzag(low: any[], high: any[], o1: number, o2: number, o3: number, o4: number) {
  const out: number[][] = [];
  for (let w = 0; w < high.length; w++) {
    if (high[w] == null) continue;
    out.push([7 * w + o1, low[w]], [7 * w + o2, high[w]], [7 * w + o3, high[w]], [7 * w + o4, low[w]]);
  }
  return out;
}
const shift = (d: number[][]) => d.map(([x, y]) => [x - SHIFT_DAYS, y]);

function line(gi: number, data: any, color: string, width: number, dotted: boolean, z: number) {
  return {
    type: 'line', xAxisIndex: gi * 2, yAxisIndex: gi * 2, data, symbol: 'none', showSymbol: false,
    lineStyle: { color, width, type: dotted ? [1, 2] : 'solid' }, itemStyle: { color },
    z, silent: true, clip: true, animation: false,
  };
}

const dateLabel = (v: number) => {
  const k = Math.round(v / X_STEP);
  return Math.abs(v - k * X_STEP) < 1e-6 && k >= 0 && k < tickLabels.length ? tickLabels[k] : '';
};

function buildOption() {
  const xAxis: any[] = [];
  const yAxis: any[] = [];
  const grid: any[] = [];
  panels.forEach((p, i) => {
    const bottomRow = i >= 3;
    const leftCol = i % 3 === 0;
    grid.push({ left: p.left, top: p.top, width: p.width, height: PLOT_H, containLabel: false });
    const common = {
      gridIndex: i, type: 'value', min: 0, max: X_MAX, interval: X_STEP,
      axisLine: { show: true, onZero: false, lineStyle: { color: '#262626', width: 1 } },
      axisTick: { show: true, inside: true, length: 4, lineStyle: { color: '#262626' } },
    };
    xAxis.push({
      ...common, position: 'bottom',
      splitLine: { show: true, lineStyle: { color: '#dfdfdf', width: 1 } },
      axisLabel: { show: false },
      name: bottomRow ? 'Date' : '', nameLocation: 'middle', nameGap: 92,
      nameTextStyle: { fontSize: 22, fontFamily: FONT, color: '#4d4d4d' },
    });
    xAxis.push({ ...common, position: 'top', splitLine: { show: false }, axisLabel: { show: false } });
    const ycommon = {
      gridIndex: i, type: 'value', min: 0, max: 1, interval: 0.2,
      axisLine: { show: true, onZero: false, lineStyle: { color: '#262626', width: 1 } },
      axisTick: { show: true, inside: true, length: 4, lineStyle: { color: '#262626' } },
    };
    yAxis.push({
      ...ycommon, position: 'left',
      splitLine: { show: true, lineStyle: { color: '#dfdfdf', width: 1 } },
      axisLabel: {
        show: leftCol, fontSize: 21, fontFamily: FONT, color: '#4d4d4d', margin: 8,
        formatter: (v: number) => (yTicks.some((t) => Math.abs(t - v) < 1e-9) ? String(Math.round(v * 10) / 10) : ''),
      },
      name: leftCol ? 'Daily case fatality ratio' : '', nameLocation: 'middle', nameGap: 36,
      nameTextStyle: { fontSize: 22, fontFamily: FONT, color: '#4d4d4d' },
    });
    yAxis.push({ ...ycommon, position: 'right', splitLine: { show: false }, axisLabel: { show: false } });
  });
  // label-only date axes for the bottom row, extended one step to the left so that the
  // first date label is not the axis' min label (which ECharts would drop on overlap)
  panels.slice(3).forEach((p, j) => {
    const gi = 6 + j;
    const step = (p.width / X_MAX) * X_STEP;
    grid.push({ left: p.left - step, top: p.top, width: p.width + step, height: PLOT_H, containLabel: false });
    xAxis.push({
      gridIndex: gi, type: 'value', min: -X_STEP, max: X_MAX, interval: X_STEP, position: 'bottom',
      axisLine: { show: false, onZero: false }, axisTick: { show: false }, splitLine: { show: false },
      axisLabel: {
        show: true, rotate: 45, fontSize: 18.5, fontFamily: FONT, color: '#4d4d4d', margin: 6,
        showMinLabel: false, showMaxLabel: false, hideOverlap: false, formatter: dateLabel,
      },
    });
    yAxis.push({
      gridIndex: gi, type: 'value', min: 0, max: 1, show: false,
      axisLine: { show: false }, axisTick: { show: false }, axisLabel: { show: false }, splitLine: { show: false },
    });
  });

  const series: any[] = [];
  const blackDots = 'rgba(0,0,0,0.75)';
  // A
  series.push(line(0, aLowBound, blackDots, 1, true, 2));
  series.push(line(0, weeklyZigzag(aLow, aUp, 2, 3, 4, 6), blackDots, 1, true, 2));
  series.push(line(0, bwdRollUp, 'rgba(126,47,142,0.45)', 1, true, 2));
  series.push(line(0, bwdRollLo, 'rgba(126,47,142,0.45)', 1, true, 2));
  series.push(line(0, weeklyZigzag(aLow, aHigh, 0, 2, 3, 5), '#000', 1.3, false, 3));
  series.push(line(0, bwdRoll, PURPLE, 3, false, 4));
  // B
  series.push(line(1, fwdUp, '#bf9530', 1.2, true, 2));
  series.push(line(1, fwdLo, '#bf9530', 1.2, true, 2));
  series.push(line(1, fwdRaw, '#000', 1.2, false, 3));
  series.push(line(1, fwdAvg, ORANGE, 3, false, 4));
  // C
  const oDots = 'rgba(237,177,32,0.65)';
  const pDots = 'rgba(126,47,142,0.5)';
  series.push(line(2, fwdUp, oDots, 1.2, true, 2));
  series.push(line(2, fwdLo, oDots, 1.2, true, 2));
  series.push(line(2, bwdRollUp, pDots, 1.2, true, 2));
  series.push(line(2, bwdRollLo, pDots, 1.2, true, 2));
  series.push(line(2, fwdRaw, ORANGE, 1.5, false, 3));
  series.push(line(2, bwdRoll, PURPLE, 1.5, false, 4));
  // D
  const bDots = 'rgba(0,114,189,0.65)';
  series.push(line(3, bwdRollUp, pDots, 1.2, true, 2));
  series.push(line(3, bwdRollLo, pDots, 1.2, true, 2));
  series.push(line(3, pheBwdUp, bDots, 1.2, true, 2));
  series.push(line(3, pheBwdLo, bDots, 1.2, true, 2));
  series.push(line(3, bwdRoll, PURPLE, 1.5, false, 3));
  series.push(line(3, pheBwd, BLUE, 1.8, false, 4));
  // E
  const rDots = 'rgba(217,83,25,0.55)';
  series.push(line(4, fwdUp, oDots, 1.2, true, 2));
  series.push(line(4, fwdLo, oDots, 1.2, true, 2));
  series.push(line(4, pheFwdUp, rDots, 1.2, true, 2));
  series.push(line(4, pheFwdLo, rDots, 1.2, true, 2));
  series.push(line(4, fwdRaw, ORANGE, 1.5, false, 3));
  series.push(line(4, pheFwd, RED, 1.5, false, 4));
  // F
  series.push(line(5, fwdUp, oDots, 1.2, true, 2));
  series.push(line(5, fwdLo, oDots, 1.2, true, 2));
  series.push(line(5, shift(bwdRollUp), pDots, 1.2, true, 2));
  series.push(line(5, shift(bwdRollLo), pDots, 1.2, true, 2));
  series.push(line(5, fwdRaw, ORANGE, 1.5, false, 3));
  series.push(line(5, shift(bwdRoll), PURPLE, 1.5, false, 4));

  const graphic: any[] = [];
  panels.forEach((p) => {
    graphic.push({
      type: 'text', x: p.left + p.width / 2, y: p.top - 17, z: 100,
      style: {
        text: p.title, fontSize: 23, fontWeight: 'bold', fontFamily: FONT, fill: '#1f1f1f',
        align: 'center', verticalAlign: 'middle', textAlign: 'center', textVerticalAlign: 'middle',
      },
    });
  });
  legends.forEach((lg) => {
    const [bx, by, bw, bh] = lg.box;
    graphic.push({
      type: 'rect', z: 100, shape: { x: bx, y: by, width: bw, height: bh },
      style: { fill: '#ffffff', stroke: '#262626', lineWidth: 1 },
    });
    lg.items.forEach((it: any, k: number) => {
      const cy = by + 14 + k * 25.6;
      graphic.push({
        type: 'line', z: 101, shape: { x1: lg.line[0], y1: cy, x2: lg.line[1], y2: cy },
        style: { stroke: it[1], lineWidth: it[2] },
      });
      graphic.push({
        type: 'text', z: 101, x: lg.text, y: cy,
        style: {
          text: it[0], fontSize: 18.6, fontFamily: FONT, fill: '#262626',
          align: 'left', verticalAlign: 'middle', textAlign: 'left', textVerticalAlign: 'middle',
        },
      });
    });
  });

  return { animation: false, backgroundColor: '#ffffff', grid, xAxis, yAxis, series, graphic };
}

export default function App() {
  const ref = useRef<HTMLDivElement>(null);
  useEffect(() => {
    if (!ref.current) return;
    const chart = echarts.init(ref.current, null, { renderer: 'svg' });
    chart.setOption(buildOption() as any);
    return () => chart.dispose();
  }, []);
  return (
    <div
      ref={ref}
      style={{ position: 'fixed', left: 0, top: 0, width: 1460, height: 805, background: '#ffffff' }}
    />
  );
}
